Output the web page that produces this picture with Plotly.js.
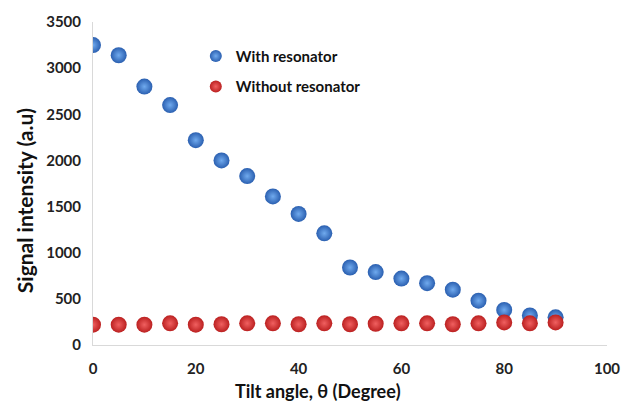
<!DOCTYPE html>
<html><head><meta charset="utf-8">
<script src="https://cdn.plot.ly/plotly-3.0.1.min.js"></script>
<style>html,body{margin:0;padding:0;background:#fff}#chart{width:628px;height:401px}</style>
</head><body><div id="chart"></div>
<script>
const angles = [0,5,10,15,20,25,30,35,40,45,50,55,60,65,70,75,80,85,90];
const withResonator = [3250,3140,2800,2600,2220,2000,1830,1610,1420,1210,840,790,720,670,600,480,380,320,300];
const withoutResonator = [220,220,220,235,220,225,235,235,225,235,225,230,235,235,225,235,245,235,245];
const seriesNames = ["With resonator","Without resonator"];
const xTitle = 'Tilt angle, θ (Degree)';
const yTitle = 'Signal intensity (a.u)';
const xTicks = [0,20,40,60,80,100];
const yTicks = [0,500,1000,1500,2000,2500,3000,3500];

const font = "Lato, 'Open Sans', sans-serif";
const traces = [
  {x: angles, y: withResonator, name: seriesNames[0], legendgroup:'a', type:'scatter', mode:'markers',
   marker:{size:16, color:'#2a5fb0', gradient:{type:'radial', color:'#70aaee'}, line:{width:0}}},
  {x: angles, y: withoutResonator, name: seriesNames[1], legendgroup:'b', type:'scatter', mode:'markers',
   marker:{size:16, color:'#bb2020', gradient:{type:'radial', color:'#f06060'}, line:{width:0}}}
];
const layout = {
  width:628, height:401,
  margin:{l:93, r:21, t:22, b:56},
  paper_bgcolor:'#fff', plot_bgcolor:'#fff',
  font:{family:font, color:'#222', size:14},
  showlegend:true,
  legend:{x:0.2, y:0.945, xanchor:'left', yanchor:'top', bgcolor:'rgba(0,0,0,0)',
          font:{family:font, size:15, color:'#111', weight:'bold'}, itemsizing:'constant',
          itemwidth:30, traceorder:'grouped', tracegroupgap:8},
  xaxis:{range:[0,100], tickvals:xTicks, showgrid:false, zeroline:false, showline:true,
         linecolor:'#d9d9d9', linewidth:1, ticks:'outside', ticklen:10, tickcolor:'rgba(0,0,0,0)',
         tickfont:{family:font, size:15, color:'#222', weight:'bold'}},
  yaxis:{range:[0,3500], tickvals:yTicks, showgrid:false, zeroline:false, showline:true,
         linecolor:'#d9d9d9', linewidth:1, ticks:'outside', ticklen:8, tickcolor:'rgba(0,0,0,0)',
         tickfont:{family:font, size:15, color:'#222', weight:'bold'}},
  annotations:[
    {text:xTitle, xref:'paper', yref:'paper', x:0.4377, y:-0.142, xanchor:'center', yanchor:'middle',
     showarrow:false, font:{family:font, size:18, color:'#111', weight:'bold'}},
    {text:yTitle, xref:'paper', yref:'paper', x:-0.134, y:0.4458, xanchor:'center', yanchor:'middle',
     textangle:-90, showarrow:false, font:{family:font, size:21, color:'#111', weight:'bold'}}
  ]
};
Plotly.newPlot('chart', traces, layout, {displayModeBar:false, staticPlot:true});
</script></body></html>
